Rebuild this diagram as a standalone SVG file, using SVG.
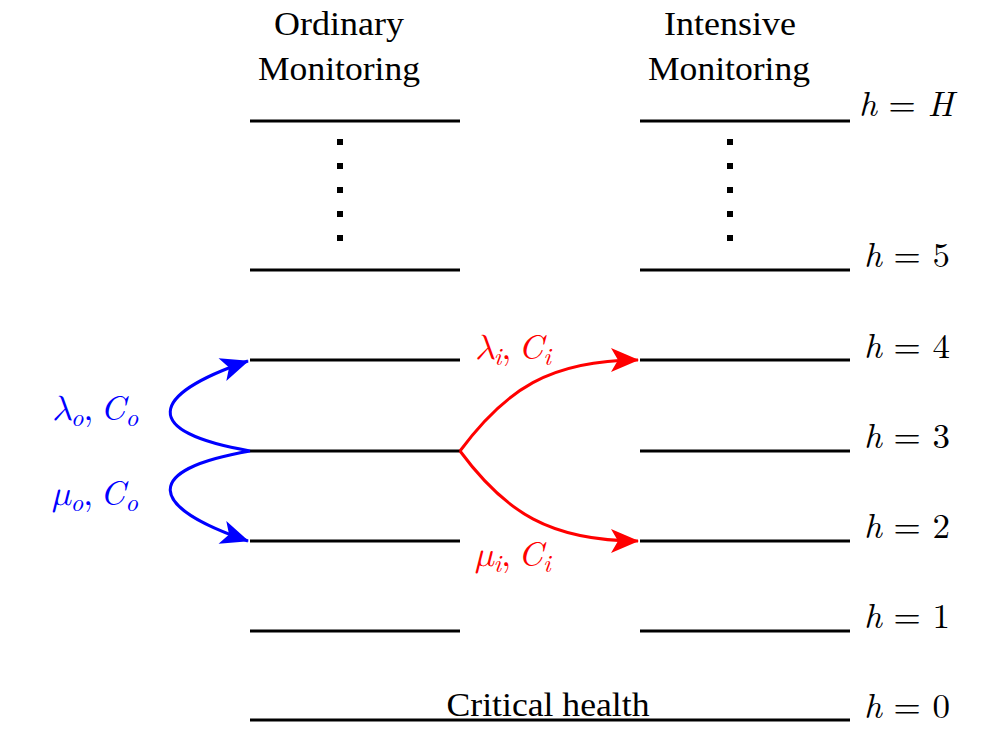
<svg xmlns="http://www.w3.org/2000/svg" width="1002" height="753" viewBox="0 0 1002 753">
<defs>
<style>
.lvl{stroke:#000;stroke-width:3;fill:none}
.hdr{font-family:'Liberation Serif','Times New Roman',serif;font-size:34px;fill:#000;text-anchor:middle}
.math{font-family:'Latin Modern Roman','Latin Modern Math','DejaVu Serif',serif;font-size:35px;fill:#000}
.lab{font-family:'Latin Modern Roman','Latin Modern Math','DejaVu Serif',serif;font-size:35px}
.it{font-style:italic}
.sub{font-style:italic;font-size:25px}
.dot{fill:#000}
.blue{stroke:#0000ff;stroke-width:3;fill:none}
.red{stroke:#ff0000;stroke-width:3;fill:none}
</style>
<marker id="ab" markerUnits="userSpaceOnUse" markerWidth="32" markerHeight="26" refX="27" refY="12" orient="auto" overflow="visible">
<path d="M0,0 L28,12 L0,24 L7,12 Z" fill="#0000ff"/>
</marker>
<marker id="ar" markerUnits="userSpaceOnUse" markerWidth="32" markerHeight="26" refX="27" refY="12" orient="auto" overflow="visible">
<path d="M0,0 L28,12 L0,24 L7,12 Z" fill="#ff0000"/>
</marker>
</defs>
<rect width="1002" height="753" fill="#fff"/>
<g id="headers">
<text class="hdr" x="339" y="35" textLength="130" lengthAdjust="spacingAndGlyphs">Ordinary</text>
<text class="hdr" x="339" y="80" textLength="162" lengthAdjust="spacingAndGlyphs">Monitoring</text>
<text class="hdr" x="730" y="35" textLength="132" lengthAdjust="spacingAndGlyphs">Intensive</text>
<text class="hdr" x="729" y="80" textLength="162" lengthAdjust="spacingAndGlyphs">Monitoring</text>
</g>
<g id="levels">
<g id="lvlH"><line class="lvl" x1="250" y1="121" x2="460" y2="121"/><line class="lvl" x1="640" y1="121" x2="850" y2="121"/><text class="math" x="859" y="116"><tspan class="it">h</tspan> = <tspan class="it">H</tspan></text></g>
<g id="lvl5"><line class="lvl" x1="250" y1="270" x2="460" y2="270"/><line class="lvl" x1="640" y1="270" x2="850" y2="270"/><text class="math" x="864" y="267"><tspan class="it">h</tspan> = 5</text></g>
<g id="lvl4"><line class="lvl" x1="250" y1="360" x2="460" y2="360"/><line class="lvl" x1="640" y1="360" x2="850" y2="360"/><text class="math" x="864" y="358"><tspan class="it">h</tspan> = 4</text></g>
<g id="lvl3"><line class="lvl" x1="250" y1="451" x2="460" y2="451"/><line class="lvl" x1="640" y1="451" x2="850" y2="451"/><text class="math" x="864" y="448"><tspan class="it">h</tspan> = 3</text></g>
<g id="lvl2"><line class="lvl" x1="250" y1="541" x2="460" y2="541"/><line class="lvl" x1="640" y1="541" x2="850" y2="541"/><text class="math" x="864" y="538"><tspan class="it">h</tspan> = 2</text></g>
<g id="lvl1"><line class="lvl" x1="250" y1="631" x2="460" y2="631"/><line class="lvl" x1="640" y1="631" x2="850" y2="631"/><text class="math" x="864" y="628"><tspan class="it">h</tspan> = 1</text></g>
<g id="lvl0"><line class="lvl" x1="250" y1="720" x2="850" y2="720"/><text class="hdr" x="548" y="716" textLength="203" lengthAdjust="spacingAndGlyphs">Critical health</text><text class="math" x="864" y="718"><tspan class="it">h</tspan> = 0</text></g>
</g>
<g id="dots">
<rect class="dot" x="337" y="139" width="6" height="6"/><rect class="dot" x="337" y="163" width="6" height="6"/><rect class="dot" x="337" y="187" width="6" height="6"/><rect class="dot" x="337" y="211" width="6" height="6"/><rect class="dot" x="337" y="235" width="6" height="6"/>
<rect class="dot" x="727" y="139" width="6" height="6"/><rect class="dot" x="727" y="163" width="6" height="6"/><rect class="dot" x="727" y="187" width="6" height="6"/><rect class="dot" x="727" y="211" width="6" height="6"/><rect class="dot" x="727" y="235" width="6" height="6"/>
</g>
<g id="connectors">
<path class="blue" d="M250,451 C140,432 148,395 248,361" marker-end="url(#ab)"/>
<path class="blue" d="M250,451 C140,470 148,507 248,541" marker-end="url(#ab)"/>
<path class="red" d="M460,451 C505,390 550,360 638,360" marker-end="url(#ar)"/>
<path class="red" d="M460,451 C505,512 550,541 638,541" marker-end="url(#ar)"/>
</g>
<g id="labels">
<text class="lab" x="52" y="420" fill="#0000ff"><tspan class="it">λ</tspan><tspan class="sub" dy="6">o</tspan><tspan dy="-6">,</tspan><tspan class="it" dx="7">C</tspan><tspan class="sub" dy="6">o</tspan></text>
<text class="lab" x="52" y="505" fill="#0000ff"><tspan class="it">μ</tspan><tspan class="sub" dy="6">o</tspan><tspan dy="-6">,</tspan><tspan class="it" dx="7">C</tspan><tspan class="sub" dy="6">o</tspan></text>
<text class="lab" x="475" y="359" fill="#ff0000"><tspan class="it">λ</tspan><tspan class="sub" dy="6">i</tspan><tspan dy="-6">,</tspan><tspan class="it" dx="7">C</tspan><tspan class="sub" dy="6">i</tspan></text>
<text class="lab" x="475" y="566" fill="#ff0000"><tspan class="it">μ</tspan><tspan class="sub" dy="6">i</tspan><tspan dy="-6">,</tspan><tspan class="it" dx="7">C</tspan><tspan class="sub" dy="6">i</tspan></text>
</g>
</svg>
